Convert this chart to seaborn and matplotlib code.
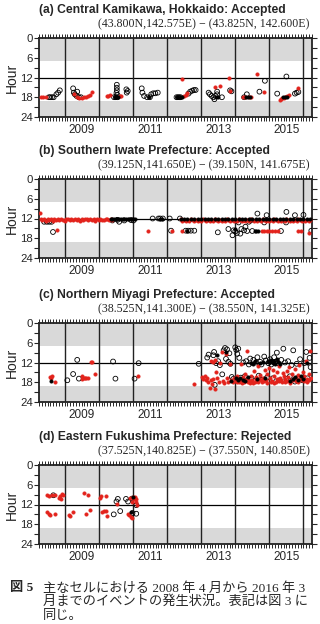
import pandas as pd
import numpy as np
import matplotlib
matplotlib.use('Agg')
import matplotlib.pyplot as plt
import seaborn as sns

# ---------------- data (decimal year, hour of day) ----------------
# (a) Central Kamikawa
a_open_year = [2008.54, 2008.58, 2008.63, 2008.68, 2008.76, 2008.81, 2008.86,
               2009.25, 2009.27, 2009.30, 2009.37, 2009.35, 2009.42, 2009.48,
               2010.45, 2010.50, 2010.55, 2010.53, 2010.53, 2010.53, 2010.52, 2010.55, 2010.81, 2010.82, 2010.85,
               2011.26, 2011.28, 2011.33, 2011.42, 2011.50, 2011.54, 2011.60, 2011.66, 2011.73,
               2012.28, 2012.32, 2012.36, 2012.40, 2012.63, 2012.68, 2012.74, 2012.79, 2012.84,
               2013.22, 2013.26, 2013.31, 2013.36, 2013.39, 2013.42, 2013.47, 2013.47, 2013.61, 2013.85, 2013.89,
               2014.26, 2014.34, 2014.71, 2014.87,
               2015.23, 2015.50, 2015.75, 2015.80, 2015.85]
a_open_hour = [18.0, 18.0, 18.0, 18.0, 17.1, 16.6, 15.9,
               15.3, 16.6, 17.1, 16.3, 17.6, 18.0, 18.0,
               18.0, 18.0, 18.0, 14.2, 15.1, 15.9, 16.7, 17.3, 15.6, 16.6, 16.1,
               15.3, 16.6, 17.6, 18.0, 18.0, 17.1, 16.8, 16.8, 16.6,
               18.0, 18.0, 18.0, 18.0, 16.9, 16.3, 16.0, 15.8, 15.8,
               16.6, 17.1, 17.6, 18.0, 18.6, 17.6, 16.3, 17.1, 18.0, 15.9, 16.2,
               18.0, 17.1, 16.3, 13.0,
               16.9, 11.7, 16.9, 16.6, 16.4]
a_red_year = [2008.30, 2008.38, 2008.46,
              2009.27, 2009.35, 2009.42, 2009.50, 2009.56, 2009.62, 2009.68, 2009.74, 2009.80,
              2010.24, 2010.28, 2010.32, 2010.62, 2010.66,
              2012.45, 2012.50, 2012.55, 2012.60,
              2013.40, 2013.56, 2013.81, 2013.85,
              2014.22, 2014.28, 2014.40, 2014.46, 2014.63, 2014.83,
              2015.30, 2015.33, 2015.37, 2015.42, 2015.47, 2015.52, 2015.57, 2015.83]
a_red_hour = [18.0, 18.0, 18.0,
              17.0, 17.8, 18.1, 18.1, 18.0, 17.9, 17.6, 17.2, 16.3,
              17.6, 17.6, 17.4, 17.7, 17.5,
              12.6, 17.7, 17.2, 16.7,
              14.8, 14.6, 12.0, 16.2,
              18.0, 18.0, 18.0, 17.8, 11.0, 16.3,
              18.7, 18.5, 18.3, 18.1, 17.9, 17.6, 17.4, 15.1]
a_black_year = [2010.48, 2010.52, 2010.57, 2011.46, 2012.30, 2012.38, 2012.44, 2013.45, 2013.50,
                2014.32, 2014.38, 2014.44, 2015.40, 2015.46, 2015.52]
a_black_hour = [18.0, 18.0, 18.0, 18.0, 18.0, 18.0, 18.0, 18.0, 18.0,
                18.0, 18.0, 18.0, 18.0, 17.9, 17.8]

# (b) Southern Iwate
b_red_year = [2008.28, 2008.30, 2008.35, 2008.40, 2008.45, 2008.50, 2008.55, 2008.60, 2008.65, 2008.70, 2008.75,
              2008.80, 2008.85, 2008.90, 2008.95, 2009.00, 2009.05, 2009.10, 2009.15, 2009.20, 2009.25,
              2009.30, 2009.35, 2009.40, 2009.45, 2009.50, 2009.55, 2009.60, 2009.65, 2009.70, 2009.75,
              2009.80, 2009.85, 2009.90, 2009.95, 2010.00, 2010.05, 2010.10, 2010.15, 2010.20, 2010.25,
              2010.30, 2010.35, 2010.40,
              2012.40, 2012.45, 2012.50, 2012.55, 2012.60, 2012.65, 2012.70, 2012.75, 2012.80, 2012.85,
              2012.90, 2012.95, 2013.00, 2013.05, 2013.10, 2013.15, 2013.20, 2013.25, 2013.30, 2013.35,
              2013.40, 2013.45, 2013.50, 2013.55, 2013.60, 2013.65, 2013.70, 2013.75, 2013.80, 2013.85,
              2013.90, 2013.95, 2014.00, 2014.05, 2014.10, 2014.15, 2014.20, 2014.25, 2014.30, 2014.35,
              2014.40, 2014.45, 2014.50, 2014.55, 2014.60, 2014.65, 2014.70, 2014.75, 2014.80, 2014.85,
              2014.90, 2014.95, 2015.00, 2015.05, 2015.10, 2015.15, 2015.20, 2015.25, 2015.30, 2015.35,
              2015.40, 2015.45, 2015.50, 2015.55, 2015.60, 2015.65, 2015.70, 2015.75, 2015.80, 2015.85,
              2015.90, 2015.95, 2016.00, 2016.05, 2016.10, 2016.15, 2016.20,
              2008.78, 2011.43, 2012.16, 2012.45, 2014.78, 2014.85, 2014.92, 2015.00, 2015.08, 2015.16,
              2015.24, 2015.85, 2015.92, 2016.17]
b_red_hour = [10.2, 12.2, 12.6, 12.3, 12.8, 12.2, 12.5, 12.3, 12.7, 12.2, 12.5,
              12.3, 12.6, 12.2, 12.4, 12.7, 12.3, 12.2, 12.5, 12.3, 12.6,
              12.2, 12.4, 12.3, 12.7, 12.2, 12.5, 12.3, 12.2, 12.6, 12.3,
              12.4, 12.2, 12.7, 12.3, 12.5, 12.2, 12.4, 12.6, 12.3, 12.2,
              12.5, 12.3, 12.4,
              12.3, 12.7, 12.5, 12.9, 12.4, 12.8, 12.3, 12.6, 12.9, 12.4,
              12.7, 12.5, 12.8, 12.3, 12.6, 12.9, 12.4, 12.7, 12.5, 12.8,
              12.3, 12.6, 12.9, 12.4, 12.7, 12.5, 12.8, 12.3, 12.6, 12.9,
              12.4, 12.7, 12.5, 12.8, 12.3, 12.6, 12.9, 12.4, 12.7, 12.5,
              12.8, 12.3, 12.6, 12.9, 12.4, 12.7, 12.5, 12.8, 12.3, 12.6,
              12.9, 12.4, 12.7, 12.5, 12.8, 12.3, 12.6, 12.9, 12.4, 12.7,
              12.5, 12.8, 12.3, 12.6, 12.9, 12.4, 12.7, 12.5, 12.8, 12.3,
              12.6, 12.9, 12.4, 12.7, 12.5, 12.8, 12.4,
              15.5, 15.7, 15.7, 15.7, 15.8, 15.8, 15.8, 15.8, 15.8, 15.8,
              15.8, 15.9, 15.9, 16.3]
b_open_year = [2008.40, 2008.48, 2008.55, 2008.62, 2008.66,
               2010.40, 2010.55, 2010.75, 2010.95, 2011.02, 2010.60,
               2011.58, 2011.75, 2011.80, 2011.88, 2012.08, 2012.12, 2012.38,
               2012.55, 2012.62, 2012.70, 2012.80,
               2013.49, 2013.80, 2013.92, 2013.95, 2014.00, 2014.05, 2014.10, 2014.15, 2014.18, 2014.26,
               2014.30, 2014.35, 2014.40, 2014.45, 2014.50, 2014.65, 2014.85, 2014.92,
               2015.34, 2015.49, 2015.50, 2015.75, 2016.00, 2016.23]
b_open_hour = [13.0, 13.0, 13.0, 13.0, 16.1,
               12.6, 12.4, 12.6, 12.5, 12.6, 13.0,
               12.0, 12.0, 12.0, 12.0, 12.0, 15.7, 12.0,
               15.7, 15.7, 15.7, 15.7,
               16.2, 15.2, 17.1, 15.6, 15.9, 16.4, 13.2, 16.6, 15.2, 15.6,
               14.5, 15.8, 13.0, 12.6, 15.8, 10.5, 13.2, 11.0,
               15.8, 13.2, 10.0, 11.0, 10.9, 15.7]
b_black_year = [2010.35, 2010.40, 2010.45, 2010.50, 2010.55, 2010.60, 2010.65, 2010.70, 2010.75, 2010.80,
                2010.85, 2010.90, 2010.95, 2011.00, 2011.05, 2011.80, 2011.84,
                2012.40, 2012.50, 2012.60, 2012.70, 2012.80, 2012.90, 2013.00, 2013.10, 2013.20, 2013.30,
                2013.40, 2013.50, 2013.60, 2013.70, 2013.80, 2013.90, 2014.00, 2014.10, 2014.20, 2014.30,
                2014.40, 2014.50, 2014.60, 2014.70, 2014.80, 2014.90, 2015.00, 2015.10, 2015.20, 2015.30,
                2015.40, 2015.50, 2015.60, 2015.70, 2015.80, 2015.90, 2016.00, 2016.10, 2016.20,
                2014.58, 2014.62, 2014.66, 2012.60, 2013.98]
b_black_hour = [12.0, 12.2, 12.0, 12.3, 12.0, 12.2, 12.0, 12.3, 12.0, 12.2,
                12.0, 12.2, 12.0, 12.3, 12.0, 12.0, 12.0,
                12.0, 12.0, 12.0, 12.0, 12.0, 12.0, 12.0, 12.0, 12.0, 12.0,
                12.0, 12.0, 12.0, 12.0, 12.0, 12.0, 12.0, 12.0, 12.0, 12.0,
                12.0, 12.0, 12.0, 12.0, 12.0, 12.0, 12.0, 12.0, 12.0, 12.0,
                12.0, 12.0, 12.0, 12.0, 12.0, 12.0, 12.0, 12.0, 12.0,
                15.8, 15.8, 15.8, 15.7, 15.3]

# (c) Northern Miyagi
c_red_year = [2008.57, 2008.62, 2008.60, 2008.71, 2009.50, 2009.52, 2009.56, 2009.60, 2009.64, 2009.70,
              2009.78, 2009.80, 2009.88, 2011.14, 2012.79,
              2013.03, 2013.06, 2013.10, 2013.13, 2013.17, 2013.20, 2013.25, 2013.28, 2013.32, 2013.36,
              2013.40, 2013.30, 2013.35, 2013.40, 2013.45, 2013.48, 2013.52, 2013.56, 2013.60, 2013.64,
              2013.68, 2013.72, 2013.75, 2013.80, 2013.84, 2013.88, 2013.93, 2013.97,
              2014.02, 2014.06, 2014.10, 2014.14, 2014.18, 2014.22, 2014.26, 2014.30, 2014.34, 2014.38,
              2014.42, 2014.46, 2014.50, 2014.54, 2014.58, 2014.62, 2014.66, 2014.70, 2014.74, 2014.78,
              2014.82, 2014.86, 2014.90, 2014.94,
              2015.00, 2015.03, 2015.07, 2015.11, 2015.15, 2015.19, 2015.23, 2015.27, 2015.31, 2015.35,
              2015.39, 2015.43, 2015.47, 2015.51, 2015.55, 2015.59, 2015.63, 2015.67, 2015.71, 2015.75,
              2015.79, 2015.83, 2015.87, 2015.91, 2015.95, 2015.99, 2016.03, 2016.07, 2016.11, 2016.15,
              2016.19, 2016.22,
              2014.04, 2014.12, 2014.20, 2014.28, 2014.36, 2014.44, 2014.52, 2014.60, 2014.68, 2014.76,
              2014.84, 2014.92, 2015.05, 2015.13, 2015.21, 2015.29, 2015.37, 2015.45, 2015.53, 2015.61,
              2015.69, 2015.77, 2015.85, 2015.93, 2016.01, 2016.09, 2016.17]
c_red_hour = [16.3, 16.0, 16.6, 17.8, 16.0, 16.9, 16.6, 16.7, 16.8, 16.6,
              11.8, 11.8, 15.6, 16.1, 18.6,
              16.5, 17.0, 16.2, 17.4, 16.8, 18.0, 19.6, 17.2, 18.4, 17.0,
              20.2, 11.4, 11.8, 11.2, 15.0, 16.8, 17.8, 12.0, 8.8, 17.5,
              18.2, 9.5, 16.6, 17.8, 12.5, 17.2, 18.0, 16.8,
              17.6, 16.2, 18.0, 17.3, 12.4, 16.5, 17.8, 15.5, 8.4, 17.0,
              18.2, 16.0, 17.4, 14.6, 17.8, 16.4, 13.2, 17.0, 15.8, 18.0,
              16.6, 14.2, 17.2, 15.4,
              13.6, 16.8, 17.6, 14.4, 16.2, 17.8, 15.0, 13.0, 16.6, 17.4,
              15.2, 16.0, 17.8, 14.6, 16.4, 13.4, 17.2, 15.6, 16.8, 14.0,
              17.6, 15.8, 12.8, 16.6, 17.4, 14.8, 16.2, 11.6, 17.0, 15.4,
              8.4, 16.6,
              17.9, 17.5, 18.1, 17.2, 18.0, 17.6, 18.3, 17.1, 17.9, 17.3,
              17.7, 18.1, 17.9, 18.2, 17.0, 17.7, 18.0, 16.9, 17.5, 18.1,
              17.3, 16.6, 17.8, 16.9, 17.6, 18.0, 17.2]
c_open_year = [2009.08, 2009.25, 2009.37, 2009.42, 2010.42, 2010.49, 2011.05, 2011.17, 2012.93,
               2013.18, 2013.22, 2013.36, 2013.38, 2013.40, 2013.44, 2013.50, 2013.55, 2013.62, 2013.66,
               2013.70, 2013.73, 2013.76, 2013.80, 2013.83, 2013.86, 2013.90, 2013.94,
               2014.00, 2014.03, 2014.06, 2014.09, 2014.12, 2014.16, 2014.20, 2014.24, 2014.28, 2014.32,
               2014.36, 2014.40, 2014.44, 2014.48, 2014.53, 2014.57, 2014.61, 2014.65, 2014.69, 2014.73,
               2014.77, 2014.81, 2014.85, 2014.89, 2014.93, 2014.97,
               2015.02, 2015.06, 2015.10, 2015.14, 2015.18, 2015.22, 2015.26, 2015.30, 2015.35, 2015.41,
               2015.46, 2015.50, 2015.55, 2015.60, 2015.65, 2015.70, 2015.75, 2015.80, 2015.85, 2015.90,
               2015.96, 2016.02, 2016.08, 2016.12, 2016.18, 2016.21]
c_open_hour = [17.4, 15.5, 11.2, 16.9, 11.7, 16.9, 16.9, 12.2, 12.4,
               10.5, 9.6, 9.8, 8.8, 18.8, 12.2, 11.6, 12.8, 15.6, 8.3,
               7.6, 10.9, 8.0, 11.8, 9.2, 12.4, 16.4, 17.0,
               7.4, 8.2, 9.4, 7.8, 10.6, 16.6, 17.8, 12.0, 16.2, 11.6,
               17.4, 12.6, 10.8, 16.8, 11.2, 17.6, 12.0, 10.4, 16.0, 11.8,
               12.6, 17.2, 10.2, 11.4, 16.6, 12.2,
               11.0, 12.6, 16.8, 10.4, 11.8, 9.0, 12.2, 17.4, 11.2, 7.8,
               12.0, 17.0, 11.6, 16.2, 12.8, 8.3, 17.8, 12.4, 16.6, 11.0,
               17.4, 12.2, 8.8, 16.8, 10.6, 13.4]
c_black_year = [2008.60, 2013.46, 2013.74, 2013.88, 2014.02, 2014.08, 2014.14, 2014.22, 2014.30, 2014.38,
                2014.46, 2014.52, 2014.58, 2014.64, 2014.72, 2014.80, 2014.88, 2014.96, 2015.02, 2015.06,
                2015.10, 2015.14, 2015.18, 2015.22, 2015.26, 2015.32, 2015.60, 2015.68, 2015.76, 2015.84,
                2015.92, 2016.00, 2016.10]
c_black_hour = [17.6, 9.8, 8.8, 17.6, 16.8, 17.4, 16.6, 17.2, 17.6, 16.4,
                12.0, 12.4, 11.6, 17.0, 12.2, 11.8, 16.8, 11.4, 11.8, 11.2,
                12.0, 11.6, 12.4, 11.0, 11.8, 12.6, 17.6, 17.0, 16.4, 17.2,
                16.0, 17.0, 12.0]

# (d) Eastern Fukushima
d_red_year = [2008.48, 2008.55, 2008.62, 2008.72, 2008.84, 2008.88, 2008.92, 2008.96, 2008.90,
              2008.48, 2008.53, 2008.58, 2008.72, 2009.13, 2009.17, 2009.25,
              2009.58, 2009.70, 2009.64, 2009.74, 2010.03, 2010.07, 2010.22,
              2010.10, 2010.16, 2010.22, 2010.25, 2010.53,
              2010.90, 2010.94, 2010.97, 2010.86,
              2010.93, 2010.97, 2011.00, 2011.04, 2011.08, 2011.10, 2011.06, 2011.12]
d_red_hour = [9.0, 9.4, 9.2, 9.0, 10.0, 9.4, 8.8, 9.2, 10.3,
              14.2, 14.8, 15.2, 14.8, 15.2, 15.6, 14.4,
              8.6, 9.2, 14.8, 13.8, 10.0, 9.4, 9.4,
              14.2, 14.0, 14.0, 15.6, 11.8,
              15.2, 15.8, 16.0, 15.0,
              10.0, 11.2, 9.6, 10.4, 11.2, 10.2, 9.8, 12.0]
d_open_year = [2008.67, 2010.44, 2010.63, 2010.52, 2010.56, 2010.80, 2010.86, 2010.98, 2011.04, 2011.10,
               2010.99, 2011.10]
d_open_hour = [9.2, 15.0, 14.0, 11.1, 10.3, 10.3, 11.1, 10.2, 11.0, 12.2,
               14.6, 14.8]
d_black_year = [2011.00, 2010.96]
d_black_hour = [9.8, 14.4]

titles = ['(a) Central Kamikawa, Hokkaido: Accepted',
          '(b) Southern Iwate Prefecture: Accepted',
          '(c) Northern Miyagi Prefecture: Accepted',
          '(d) Eastern Fukushima Prefecture: Rejected']
cells = ['(43.800N,142.575E) \u2212 (43.825N, 142.600E)',
         '(39.125N,141.650E) \u2212 (39.150N, 141.675E)',
         '(38.525N,141.300E) \u2212 (38.550N, 141.325E)',
         '(37.525N,140.825E) \u2212 (37.550N, 140.850E)']
year_lines = [2009, 2010, 2011, 2012, 2013, 2014, 2015, 2016]
year_labels = ['', '2009', '', '2011', '', '2013', '', '2015']
caption = ['主なセルにおける 2008 年 4 月から 2016 年 3',
           '月までのイベントの発生状況。表記は図 3 に',
           '同じ。']

# ---------------- plotting ----------------
sns.set_style('ticks')
plt.rcParams['font.family'] = ['Liberation Sans', 'DejaVu Sans']

W, H = 320, 624
fig = plt.figure(figsize=(W / 100, H / 100), dpi=100)

panel_tops = [38, 179, 323, 465]
panel_h = 79
left, right = 39, 312

panels = [
    (a_red_year, a_red_hour, a_open_year, a_open_hour, a_black_year, a_black_hour),
    (b_red_year, b_red_hour, b_open_year, b_open_hour, b_black_year, b_black_hour),
    (c_red_year, c_red_hour, c_open_year, c_open_hour, c_black_year, c_black_hour),
    (d_red_year, d_red_hour, d_open_year, d_open_hour, d_black_year, d_black_hour),
]

for i, (ry, rh, oy, oh, ky, kh) in enumerate(panels):
    top = panel_tops[i]
    ax = fig.add_axes([left / W, 1 - (top + panel_h) / H, (right - left) / W, panel_h / H])

    ax.axhspan(0, 7, color='#d9d9d9', lw=0, zorder=0)
    ax.axhspan(19, 24, color='#d9d9d9', lw=0, zorder=0)
    ax.axhline(12, color='k', lw=0.9, zorder=1)
    for yl in year_lines:
        ax.axvline(yl, color='#222222', lw=1.0, zorder=1)

    red = pd.DataFrame({'year': ry, 'hour': rh})
    opn = pd.DataFrame({'year': oy, 'hour': oh})
    blk = pd.DataFrame({'year': ky, 'hour': kh})

    sns.scatterplot(data=opn, x='year', y='hour', ax=ax, marker='o', s=12,
                    facecolors='none', edgecolor='black', linewidth=0.6, legend=False, zorder=3)
    sns.scatterplot(data=red, x='year', y='hour', ax=ax, marker='o', s=7,
                    color='#e3231c', edgecolor='#e3231c', linewidth=0.2, legend=False, zorder=4)
    sns.scatterplot(data=blk, x='year', y='hour', ax=ax, marker='o', s=7,
                    color='black', edgecolor='black', linewidth=0.2, legend=False, zorder=5)

    ax.set_xlim(2008.25, 2016.25)
    ax.set_ylim(24, 0)
    ax.set_yticks([0, 6, 12, 18, 24])
    ax.set_yticks([3, 9, 15, 21], minor=True)
    ax.set_xticks([y - 0.5 for y in year_lines])
    ax.set_xticklabels(year_labels)
    ax.set_xticks(np.arange(2008.25, 2016.26, 1 / 12), minor=True)
    ax.xaxis.remove_overlapping_locs = False
    ax.tick_params(axis='x', which='major', length=0, pad=5, labelsize=8.5)
    ax.tick_params(axis='x', which='minor', length=3, width=0.7, top=True, bottom=True, direction='out')
    ax.tick_params(axis='y', which='both', length=3.5, width=0.8, left=True, right=True, direction='out',
                   labelsize=8.2, pad=1)
    ax.set_xlabel('')
    ax.set_ylabel('Hour', fontsize=10, labelpad=1)
    for sp in ax.spines.values():
        sp.set_visible(True)
        sp.set_linewidth(1.3)
        sp.set_color('#222222')

    fig.text(left / W, 1 - (top - 28) / H, titles[i], ha='left', va='center',
             fontsize=8.7, fontweight='bold')
    fig.text(310 / W, 1 - (top - 14) / H, cells[i], ha='right', va='center',
             fontsize=8.6, family=['Liberation Serif', 'DejaVu Serif'])

cap_font = ['Liberation Serif', 'Noto Sans CJK JP']
fig.text(10 / W, 1 - 588 / H, '図 5', ha='left', va='center', fontsize=9.5,
         fontweight='bold', family=cap_font)
for j, line in enumerate(caption):
    fig.text(43 / W, 1 - (588 + 14 * j) / H, line, ha='left', va='center',
             fontsize=9.5, family=cap_font)

fig.savefig('out.png', dpi=100)
